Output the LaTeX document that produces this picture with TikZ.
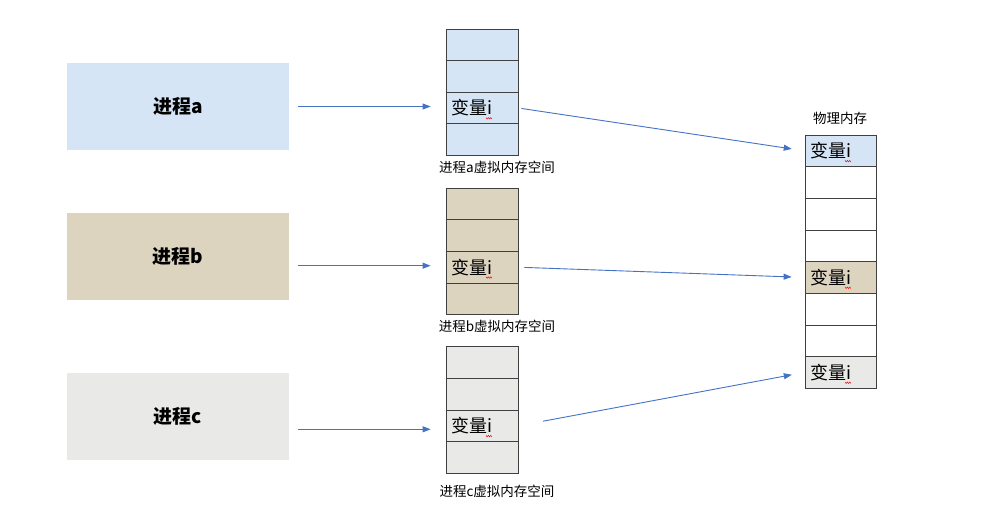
\documentclass[tikz,border=0pt]{standalone}
\usepackage{fontspec}
\setmainfont{Noto Sans CJK SC}
\usepackage{tikz}
\usetikzlibrary{arrows.meta}

\definecolor{arrowblue}{RGB}{68,114,196}
\definecolor{blueA}{RGB}{214,229,246}
\definecolor{beigeB}{RGB}{221,212,192}
\definecolor{greyC}{RGB}{233,233,231}

\tikzset{
  proc/.style={minimum width=222pt,minimum height=87pt,inner sep=0pt,
    font=\fontsize{19}{19}\selectfont\bfseries},
  vcell/.style={draw=black!75,line width=0.8pt,minimum width=72pt,
    minimum height=31.6pt,inner sep=0pt},
  pcell/.style={draw=black!75,line width=0.8pt,minimum width=71pt,
    minimum height=31.65pt,inner sep=0pt},
  vartext/.style={anchor=west,inner sep=0pt,font=\fontsize{18}{18}\selectfont},
  caption/.style={font=\fontsize{13.5}{14}\selectfont},
  arr/.style={draw=arrowblue,line width=0.9pt,-{Triangle[length=8pt,width=6pt]}},
  squig/.style={draw=red,line width=0.5pt}
}

\begin{document}
\begin{tikzpicture}[x=1pt,y=-1pt]
\useasboundingbox (0,0) rectangle (981,519);
%进程
\node[proc,fill=blueA] (pa) at (178,106.5) {进程a};
\node[proc,fill=beigeB] (pb) at (178,256.5) {进程b};
\node[proc,fill=greyC] (pc) at (178,416.5) {进程c};
%虚拟内存空间
\foreach \i in {1,...,4} {
  \node[vcell,fill=blueA] (va\i) at (482,{13.2+\i*31.6}) {};
  \node[vcell,fill=beigeB] (vb\i) at (482,{172.4+\i*31.6}) {};
  \node[vcell,fill=greyC] (vc\i) at (482,{331+\i*31.6}) {};
}
\node[caption] (capa) at (497,167) {进程a虚拟内存空间};
\node[caption] (capb) at (497,326) {进程b虚拟内存空间};
\node[caption] (capc) at (497,491) {进程c虚拟内存空间};
%物理内存
\foreach \i in {1,...,8}
  \node[pcell] (pm\i) at (840.5,{119.175+\i*31.65}) {};
\node[pcell,fill=blueA] at (pm1) {};
\node[pcell,fill=beigeB] at (pm5) {};
\node[pcell,fill=greyC] at (pm8) {};
\node[caption] (cappm) at (840,118) {物理内存};
%变量i
\foreach \c in {va3,vb3,vc3,pm1,pm5,pm8} {
  \node[vartext] (t\c) at ([xshift=6pt]\c.west) {变量i};
  \draw[squig] ([xshift=-7pt,yshift=-1pt]t\c.south east)
    -- ++(1.2,1.5) -- ++(1.2,-1.5) -- ++(1.2,1.5) -- ++(1.2,-1.5) -- ++(1.2,1.5);
}
%箭头
\draw[arr,shorten <=9pt,shorten >=15pt] (pa.east) -- (pa.east -| va3.west);
\draw[arr,shorten <=9pt,shorten >=15pt] ([yshift=1.5pt]pb.east |- vb3) -- ([yshift=1.5pt]vb3.west);
\draw[arr,shorten <=9pt,shorten >=15pt] ([yshift=-3.5pt]pc.east |- vc3) -- ([yshift=-3.5pt]vc3.west);
\draw[arr,shorten <=3pt,shorten >=13pt] (va3.east) -- (pm1.west);
\draw[arr,shorten <=6pt,shorten >=13pt] (vb3.east) -- (pm5.west);
\draw[arr,shorten <=25pt,shorten >=13pt] (vc3.east) -- (pm8.west);
\end{tikzpicture}
\end{document}
